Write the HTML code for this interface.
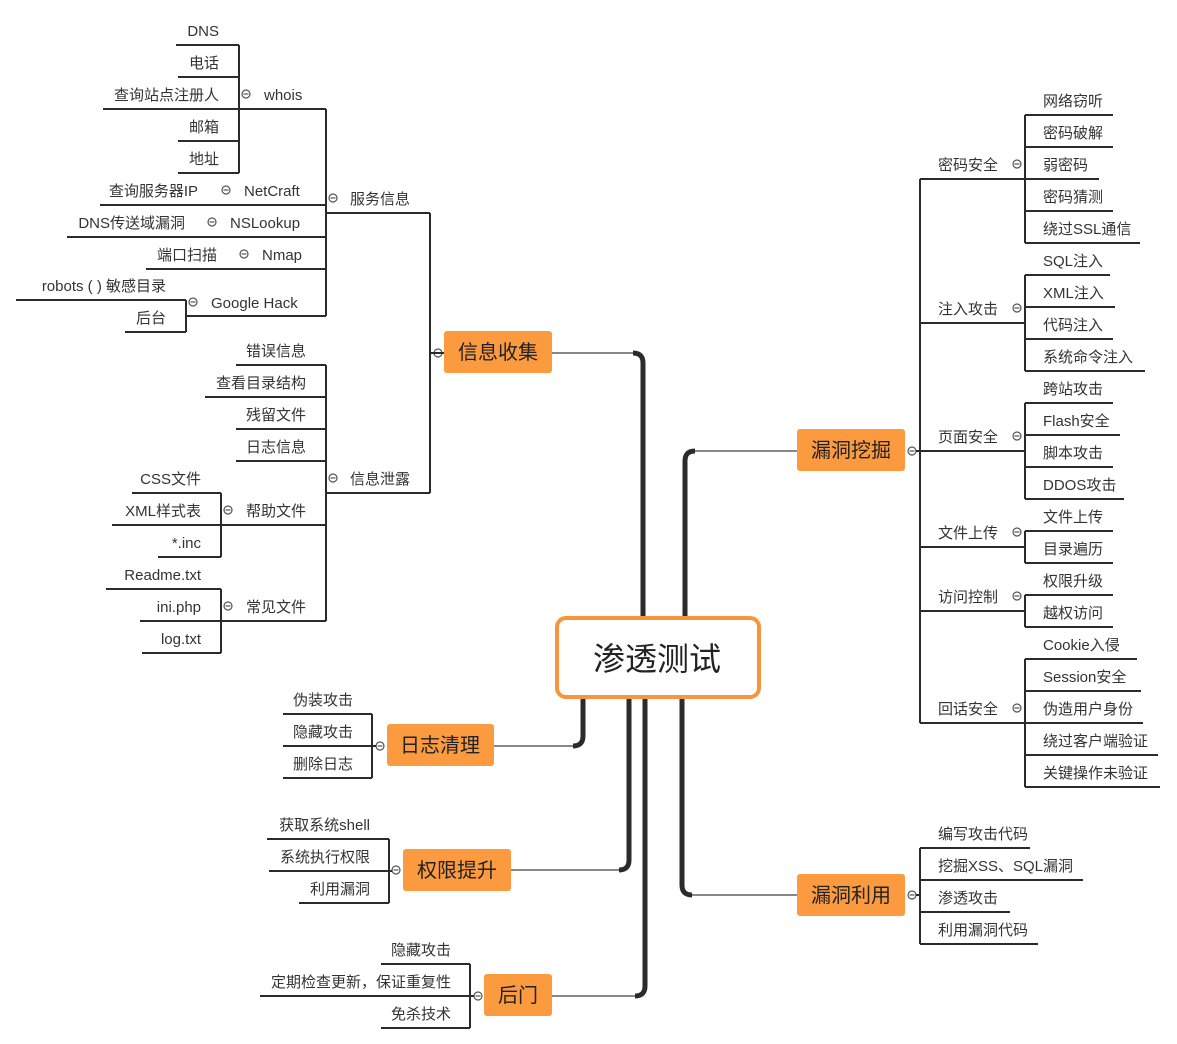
<!DOCTYPE html>
<html><head><meta charset="utf-8"><style>
html,body{margin:0;padding:0;background:#fff;}
svg{display:block;}
text{font-family:"Liberation Sans","Noto Sans CJK SC",sans-serif;font-size:15px;fill:#333;}
.l{stroke:#2b2b2b;stroke-width:2;fill:none;}
.t{stroke:#2d2a2e;stroke-width:5;fill:none;}
.g{stroke:#888;stroke-width:2;fill:none;}
.c{fill:#fff;stroke:#555;stroke-width:1.2;}
.o{fill:#fb9a3f;}
.ot{font-size:20px;fill:#222;}
</style></head><body>
<svg width="1177" height="1044" viewBox="0 0 1177 1044">
<defs>
<g id="m"><circle class="c" cx="0" cy="0" r="4"/><line x1="-2.5" y1="0" x2="2.5" y2="0" stroke="#555" stroke-width="1.2"/></g>
</defs>

<!-- trunks -->
<path class="g" d="M552,353 H636"/>
<path class="t" d="M643,617 V363 Q643,353 633,353"/>
<path class="g" d="M692,451 H797"/>
<path class="t" d="M685,617 V461 Q685,451 695,451"/>
<path class="g" d="M494,746 H576"/>
<path class="t" d="M583,698 V736 Q583,746 573,746"/>
<path class="g" d="M511,870 H622"/>
<path class="t" d="M629,698 V860 Q629,870 619,870"/>
<path class="g" d="M552,996 H638"/>
<path class="t" d="M645,698 V986 Q645,996 635,996"/>
<path class="g" d="M689,895 H797"/>
<path class="t" d="M682,698 V885 Q682,895 692,895"/>

<!-- center -->
<rect x="557" y="618" width="202" height="79" rx="9" fill="#fff" stroke="#f8953c" stroke-width="4"/>
<text x="657" y="670" text-anchor="middle" style="font-size:32px;fill:#222">渗透测试</text>

<!-- orange nodes -->
<rect class="o" x="444" y="331" width="108" height="42" rx="3"/><text class="ot" x="498" y="359" text-anchor="middle">信息收集</text>
<rect class="o" x="797" y="429" width="108" height="42" rx="3"/><text class="ot" x="851" y="457" text-anchor="middle">漏洞挖掘</text>
<rect class="o" x="797" y="874" width="108" height="42" rx="3"/><text class="ot" x="851" y="902" text-anchor="middle">漏洞利用</text>
<rect class="o" x="387" y="724" width="107" height="42" rx="3"/><text class="ot" x="440" y="752" text-anchor="middle">日志清理</text>
<rect class="o" x="403" y="849" width="108" height="42" rx="3"/><text class="ot" x="457" y="877" text-anchor="middle">权限提升</text>
<rect class="o" x="484" y="974" width="68" height="42" rx="3"/><text class="ot" x="518" y="1002" text-anchor="middle">后门</text>

<!-- 信息收集 -->
<use href="#m" x="438" y="353"/>
<path class="l" d="M444,353 H431 M430,213 V493"/>
<path class="l" d="M326,213 H430 M326,493 H430"/>
<use href="#m" x="333" y="198"/><text x="350" y="204">服务信息</text>
<use href="#m" x="333" y="478"/><text x="350" y="484">信息泄露</text>
<path class="l" d="M326,109 V316"/>
<!-- whois -->
<path class="l" d="M240,109 H326"/>
<use href="#m" x="246" y="94"/><text x="264" y="100">whois</text>
<path class="l" d="M239,45 V173 M176,45 H239 M178,77 H239 M103,109 H239 M178,141 H239 M178,173 H239"/>
<text x="219" y="36" text-anchor="end">DNS</text>
<text x="219" y="68" text-anchor="end">电话</text>
<text x="219" y="100" text-anchor="end">查询站点注册人</text>
<text x="219" y="132" text-anchor="end">邮箱</text>
<text x="219" y="164" text-anchor="end">地址</text>
<path class="l" d="M100,205 H326 M67,237 H326 M146,269 H326 M186,316 H326"/>
<text x="198" y="196" text-anchor="end">查询服务器IP</text><use href="#m" x="226" y="190"/><text x="244" y="196">NetCraft</text>
<text x="185" y="228" text-anchor="end">DNS传送域漏洞</text><use href="#m" x="212" y="222"/><text x="230" y="228">NSLookup</text>
<text x="217" y="260" text-anchor="end">端口扫描</text><use href="#m" x="244" y="254"/><text x="262" y="260">Nmap</text>
<use href="#m" x="193" y="302"/><text x="211" y="308">Google Hack</text>
<path class="l" d="M186,300 V332 M16,300 H186 M125,332 H186"/>
<text x="166" y="291" text-anchor="end">robots ( ) 敏感目录</text>
<text x="166" y="323" text-anchor="end">后台</text>
<!-- 信息泄露 -->
<path class="l" d="M326,365 V621 M236,365 H326 M205,397 H326 M236,429 H326 M236,461 H326 M221,525 H326 M221,621 H326"/>
<text x="306" y="356" text-anchor="end">错误信息</text>
<text x="306" y="388" text-anchor="end">查看目录结构</text>
<text x="306" y="420" text-anchor="end">残留文件</text>
<text x="306" y="452" text-anchor="end">日志信息</text>
<use href="#m" x="228" y="510"/><text x="246" y="516">帮助文件</text>
<use href="#m" x="228" y="606"/><text x="246" y="612">常见文件</text>
<path class="l" d="M221,493 V557 M132,493 H221 M112,525 H221 M158,557 H221"/>
<text x="201" y="484" text-anchor="end">CSS文件</text>
<text x="201" y="516" text-anchor="end">XML样式表</text>
<text x="201" y="548" text-anchor="end">*.inc</text>
<path class="l" d="M221,589 V653 M106,589 H221 M140,621 H221 M142,653 H221"/>
<text x="201" y="580" text-anchor="end">Readme.txt</text>
<text x="201" y="612" text-anchor="end">ini.php</text>
<text x="201" y="644" text-anchor="end">log.txt</text>

<!-- 漏洞挖掘 -->
<use href="#m" x="912" y="451"/>
<path class="l" d="M916,451 H920 M920,179 V723 M920,179 H1025 M920,323 H1025 M920,451 H1025 M920,547 H1025 M920,611 H1025 M920,723 H1025"/>
<text x="938" y="170">密码安全</text><use href="#m" x="1017" y="164"/>
<text x="938" y="314">注入攻击</text><use href="#m" x="1017" y="308"/>
<text x="938" y="442">页面安全</text><use href="#m" x="1017" y="436"/>
<text x="938" y="538">文件上传</text><use href="#m" x="1017" y="532"/>
<text x="938" y="602">访问控制</text><use href="#m" x="1017" y="596"/>
<text x="938" y="714">回话安全</text><use href="#m" x="1017" y="708"/>
<path class="l" d="M1025,115 V243 M1025,115 H1113 M1025,147 H1113 M1025,179 H1099 M1025,211 H1113 M1025,243 H1140"/>
<text x="1043" y="106">网络窃听</text><text x="1043" y="138">密码破解</text><text x="1043" y="170">弱密码</text><text x="1043" y="202">密码猜测</text><text x="1043" y="234">绕过SSL通信</text>
<path class="l" d="M1025,275 V371 M1025,275 H1110 M1025,307 H1115 M1025,339 H1113 M1025,371 H1145"/>
<text x="1043" y="266">SQL注入</text><text x="1043" y="298">XML注入</text><text x="1043" y="330">代码注入</text><text x="1043" y="362">系统命令注入</text>
<path class="l" d="M1025,403 V499 M1025,403 H1113 M1025,435 H1120 M1025,467 H1113 M1025,499 H1124"/>
<text x="1043" y="394">跨站攻击</text><text x="1043" y="426">Flash安全</text><text x="1043" y="458">脚本攻击</text><text x="1043" y="490">DDOS攻击</text>
<path class="l" d="M1025,531 V563 M1025,531 H1113 M1025,563 H1113"/>
<text x="1043" y="522">文件上传</text><text x="1043" y="554">目录遍历</text>
<path class="l" d="M1025,595 V627 M1025,595 H1113 M1025,627 H1113"/>
<text x="1043" y="586">权限升级</text><text x="1043" y="618">越权访问</text>
<path class="l" d="M1025,659 V787 M1025,659 H1137 M1025,691 H1141 M1025,723 H1143 M1025,755 H1158 M1025,787 H1160"/>
<text x="1043" y="650">Cookie入侵</text><text x="1043" y="682">Session安全</text><text x="1043" y="714">伪造用户身份</text><text x="1043" y="746">绕过客户端验证</text><text x="1043" y="778">关键操作未验证</text>

<!-- 漏洞利用 -->
<use href="#m" x="912" y="895"/>
<path class="l" d="M916,895 H920 M920,848 V944 M920,848 H1030 M920,880 H1083 M920,912 H1010 M920,944 H1038"/>
<text x="938" y="839">编写攻击代码</text><text x="938" y="871">挖掘XSS、SQL漏洞</text><text x="938" y="903">渗透攻击</text><text x="938" y="935">利用漏洞代码</text>

<!-- 日志清理 -->
<use href="#m" x="380" y="746"/>
<path class="l" d="M372,714 V778 M283,714 H372 M283,746 H376 M283,778 H372"/>
<text x="353" y="705" text-anchor="end">伪装攻击</text><text x="353" y="737" text-anchor="end">隐藏攻击</text><text x="353" y="769" text-anchor="end">删除日志</text>

<!-- 权限提升 -->
<use href="#m" x="396" y="870"/>
<path class="l" d="M389,839 V903 M267,839 H389 M269,871 H392 M299,903 H389"/>
<text x="370" y="830" text-anchor="end">获取系统shell</text><text x="370" y="862" text-anchor="end">系统执行权限</text><text x="370" y="894" text-anchor="end">利用漏洞</text>

<!-- 后门 -->
<use href="#m" x="478" y="996"/>
<path class="l" d="M470,964 V1028 M381,964 H470 M260,996 H474 M381,1028 H470"/>
<text x="451" y="955" text-anchor="end">隐藏攻击</text><text x="451" y="987" text-anchor="end">定期检查更新，保证重复性</text><text x="451" y="1019" text-anchor="end">免杀技术</text>
</svg>
</body></html>
